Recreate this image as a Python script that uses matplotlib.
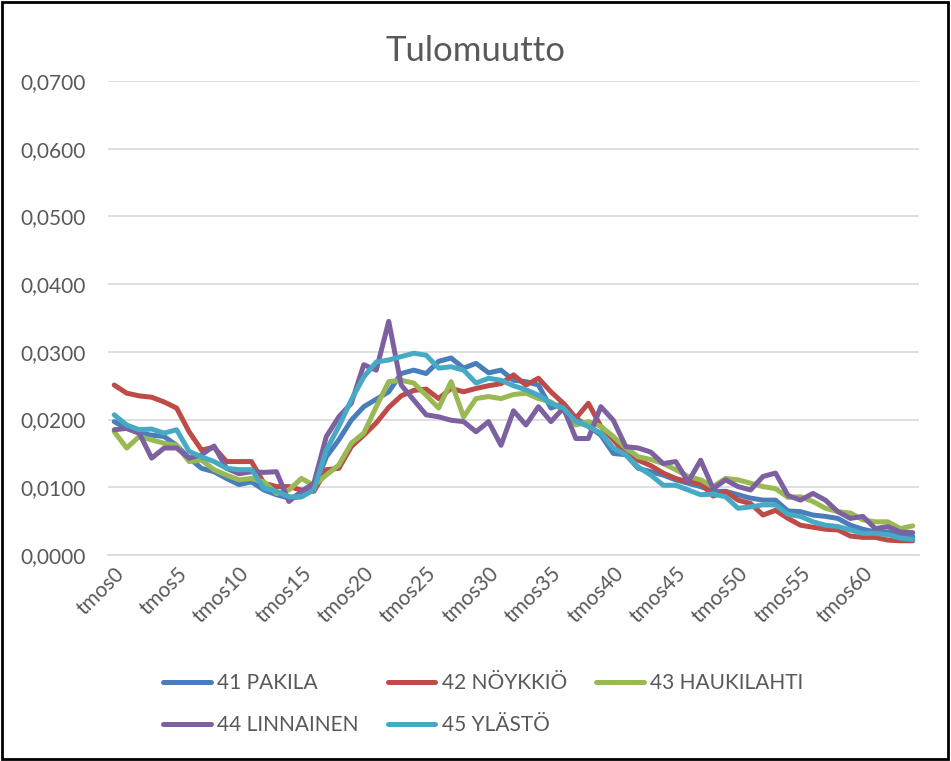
## Tulomuutto line chart
import matplotlib
matplotlib.use('Agg')
import matplotlib.pyplot as plt
from matplotlib.ticker import FuncFormatter

# categories tmos0 ... tmos64
months = ['tmos%d' % i for i in range(65)]

pakila = [0.0197, 0.0187, 0.0180, 0.0177, 0.0175, 0.0162, 0.0143, 0.0128, 0.0123, 0.0113,
          0.0104, 0.0108, 0.0096, 0.0089, 0.0084, 0.0086, 0.0098, 0.0145, 0.0170, 0.0199,
          0.0219, 0.0230, 0.0241, 0.0268, 0.0273, 0.0268, 0.0286, 0.0291, 0.0276, 0.0283,
          0.0269, 0.0273, 0.0258, 0.0256, 0.0251, 0.0217, 0.0224, 0.0202, 0.0190, 0.0177,
          0.0150, 0.0148, 0.0128, 0.0123, 0.0118, 0.0111, 0.0106, 0.0101, 0.0094, 0.0094,
          0.0089, 0.0084, 0.0081, 0.0081, 0.0065, 0.0064, 0.0059, 0.0057, 0.0054, 0.0044,
          0.0038, 0.0034, 0.0034, 0.0030, 0.0027]

noykkio = [0.0251, 0.0239, 0.0235, 0.0233, 0.0226, 0.0217, 0.0182, 0.0155, 0.0159, 0.0138,
           0.0138, 0.0138, 0.0106, 0.0101, 0.0101, 0.0096, 0.0094, 0.0126, 0.0128, 0.0160,
           0.0177, 0.0195, 0.0218, 0.0235, 0.0243, 0.0245, 0.0231, 0.0246, 0.0241, 0.0246,
           0.0250, 0.0253, 0.0266, 0.0251, 0.0261, 0.0241, 0.0224, 0.0202, 0.0224, 0.0190,
           0.0170, 0.0150, 0.0140, 0.0132, 0.0121, 0.0113, 0.0108, 0.0106, 0.0087, 0.0094,
           0.0081, 0.0076, 0.0059, 0.0066, 0.0054, 0.0044, 0.0041, 0.0038, 0.0037, 0.0028,
           0.0026, 0.0026, 0.0022, 0.0021, 0.0021]

haukilahti = [0.0182, 0.0158, 0.0175, 0.0170, 0.0165, 0.0162, 0.0138, 0.0140, 0.0126, 0.0118,
              0.0111, 0.0113, 0.0108, 0.0091, 0.0096, 0.0113, 0.0103, 0.0118, 0.0133, 0.0165,
              0.0180, 0.0219, 0.0256, 0.0258, 0.0254, 0.0236, 0.0217, 0.0256, 0.0204, 0.0231,
              0.0234, 0.0231, 0.0237, 0.0239, 0.0231, 0.0226, 0.0214, 0.0192, 0.0197, 0.0190,
              0.0175, 0.0158, 0.0145, 0.0141, 0.0135, 0.0126, 0.0116, 0.0111, 0.0101, 0.0113,
              0.0111, 0.0106, 0.0101, 0.0098, 0.0085, 0.0086, 0.0079, 0.0069, 0.0064, 0.0062,
              0.0052, 0.0049, 0.0049, 0.0039, 0.0043]

linnainen = [0.0185, 0.0187, 0.0180, 0.0143, 0.0158, 0.0158, 0.0143, 0.0148, 0.0161, 0.0128,
             0.0120, 0.0123, 0.0122, 0.0123, 0.0079, 0.0094, 0.0106, 0.0175, 0.0204, 0.0224,
             0.0281, 0.0273, 0.0345, 0.0251, 0.0229, 0.0207, 0.0204, 0.0199, 0.0197, 0.0182,
             0.0197, 0.0162, 0.0213, 0.0192, 0.0219, 0.0197, 0.0217, 0.0172, 0.0172, 0.0219,
             0.0199, 0.0160, 0.0158, 0.0152, 0.0135, 0.0138, 0.0108, 0.0140, 0.0098, 0.0111,
             0.0101, 0.0096, 0.0116, 0.0121, 0.0088, 0.0081, 0.0091, 0.0081, 0.0064, 0.0054,
             0.0057, 0.0039, 0.0042, 0.0034, 0.0033]

ylasto = [0.0207, 0.0192, 0.0185, 0.0186, 0.0180, 0.0185, 0.0153, 0.0145, 0.0138, 0.0128,
          0.0126, 0.0126, 0.0099, 0.0094, 0.0086, 0.0086, 0.0096, 0.0155, 0.0190, 0.0229,
          0.0263, 0.0285, 0.0288, 0.0293, 0.0298, 0.0295, 0.0276, 0.0278, 0.0273, 0.0254,
          0.0261, 0.0258, 0.0250, 0.0244, 0.0236, 0.0224, 0.0217, 0.0197, 0.0190, 0.0180,
          0.0158, 0.0148, 0.0130, 0.0118, 0.0103, 0.0103, 0.0096, 0.0089, 0.0090, 0.0086,
          0.0069, 0.0071, 0.0074, 0.0074, 0.0060, 0.0057, 0.0049, 0.0044, 0.0042, 0.0037,
          0.0032, 0.0032, 0.0030, 0.0025, 0.0023]

series = [('41 PAKILA', pakila, '#4A7EBB'),
          ('42 NÖYKKIÖ', noykkio, '#BE4B48'),
          ('43 HAUKILAHTI', haukilahti, '#98B954'),
          ('44 LINNAINEN', linnainen, '#7D60A0'),
          ('45 YLÄSTÖ', ylasto, '#46AAC5')]

plt.rcParams['font.family'] = ['Lato', 'DejaVu Sans']

fig = plt.figure(figsize=(9.51, 7.61), dpi=100)
ax = fig.add_axes([108 / 951, 1 - 555 / 761, 811 / 951, 474 / 761])

x = list(range(len(months)))
for name, vals, col in series:
    ax.plot(x, vals, color=col, lw=3.6, label=name,
            solid_joinstyle='round', solid_capstyle='round')

ax.set_xlim(-0.5, len(months) - 0.5)
ax.set_ylim(0, 0.07)
ax.set_yticks([i / 100 for i in range(8)])
ax.yaxis.set_major_formatter(FuncFormatter(lambda v, p: ('%.4f' % v).replace('.', ',')))
ax.set_xticks(x[::5])
ax.set_xticklabels(months[::5], rotation=45, ha='right', rotation_mode='anchor')

ax.grid(axis='y', color='#D9D9D9', lw=1.2)
ax.set_axisbelow(True)
for s in ['top', 'right', 'left']:
    ax.spines[s].set_visible(False)
ax.spines['bottom'].set_color('#D9D9D9')
ax.spines['bottom'].set_linewidth(1.2)
ax.tick_params(length=0, labelsize=15, colors='#595959', pad=6)
ax.tick_params(axis='y', pad=16)

fig.text(0.5, 1 - 51 / 761, 'Tulomuutto', ha='center', va='center',
         fontsize=25, color='#595959')

# legend order in Excel runs row by row, matplotlib fills columns, so reorder
h, l = ax.get_legend_handles_labels()
order = [0, 3, 1, 4, 2]
fig.legend([h[i] for i in order], [l[i] for i in order], loc='center',
           bbox_to_anchor=(0.508, 1 - 704 / 761), ncol=3, frameon=False,
           fontsize=15, handlelength=2.3, columnspacing=1.4, labelcolor='#595959',
           handletextpad=0.3, labelspacing=1.05)

# chart border
fig.patches.append(plt.Rectangle((0.002, 0.003), 0.995, 0.994, transform=fig.transFigure,
                                 fill=False, edgecolor='black', lw=2))

fig.savefig('out.png', dpi=100)
